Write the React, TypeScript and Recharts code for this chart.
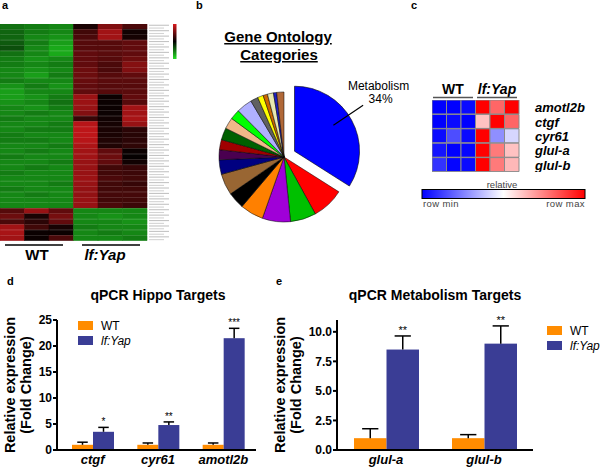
import React from "react";
import { BarChart, Bar, XAxis, YAxis, Cell, PieChart, Pie, Legend } from "recharts";

const FONT = "'Liberation Sans', Arial, Helvetica, sans-serif";
const ORANGE = "#FF8C00";
const NAVY = "#3A3D95";

// ---------- Panel a: microarray heatmap (log ratio, -1 green .. +1 red) ----------
const heatSamplesA = ["WT 1", "WT 2", "WT 3", "lf:Yap 1", "lf:Yap 2", "lf:Yap 3"];
const heatGroupsA = ["WT", "lf:Yap"];
const heatValuesA: number[][] = [
  [-0.5, -0.55, -0.6, 0.12, 0.6, 0.35],
  [-0.45, -0.55, -0.6, 0.3, 0.75, 0.08],
  [-0.45, -0.6, -0.65, 0.35, 0.75, 0.1],
  [-0.4, -0.55, -0.7, 0.4, 0.4, 0.45],
  [-0.35, -0.6, -0.75, 0.4, 0.4, 0.45],
  [-0.5, -0.6, -0.75, 0.45, 0.42, 0.45],
  [-0.55, -0.65, -0.6, 0.45, 0.4, 0.5],
  [-0.55, -0.6, -0.55, 0.45, 0.35, 0.62],
  [-0.6, -0.65, -0.6, 0.5, 0.35, 0.6],
  [-0.6, -0.7, -0.55, 0.5, 0.4, 0.45],
  [-0.55, -0.6, -0.6, 0.48, 0.42, 0.42],
  [-0.65, -0.55, -0.65, 0.45, 0.4, 0.4],
  [-0.7, -0.6, -0.6, 0.45, 0.4, 0.42],
  [-0.7, -0.65, -0.55, 0.72, 0.05, 0.45],
  [-0.65, -0.6, -0.5, 0.72, 0.05, 0.4],
  [-0.6, -0.65, -0.55, 0.7, 0.05, 0.75],
  [-0.6, -0.55, -0.6, 0.6, 0.06, 0.75],
  [-0.55, -0.6, -0.6, 0.25, 0.08, 0.78],
  [-0.6, -0.6, -0.55, 0.85, 0.1, 0.7],
  [-0.6, -0.55, -0.55, 0.88, 0.12, 0.2],
  [-0.55, -0.6, -0.6, 0.88, 0.12, 0.18],
  [-0.55, -0.55, -0.6, 0.85, 0.15, 0.2],
  [-0.6, -0.6, -0.55, 0.8, 0.15, 0.22],
  [-0.6, -0.55, -0.6, 0.75, 0.45, 0.05],
  [-0.55, -0.6, -0.6, 0.75, 0.5, 0.03],
  [-0.6, -0.6, -0.55, 0.7, 0.45, 0.08],
  [-0.6, -0.55, -0.6, 0.7, 0.3, 0.25],
  [-0.55, -0.6, -0.6, 0.7, 0.3, 0.28],
  [-0.6, -0.6, -0.6, 0.72, 0.35, 0.3],
  [-0.6, -0.6, -0.55, 0.7, 0.3, 0.25],
  [-0.55, -0.6, -0.6, 0.68, 0.3, 0.3],
  [-0.6, -0.55, -0.6, 0.68, 0.32, 0.32],
  [-0.6, -0.6, -0.6, 0.7, 0.3, 0.3],
  [-0.6, -0.6, -0.6, 0.7, 0.35, 0.28],
  [0.4, 0.7, 0.45, -0.6, -0.6, -0.6],
  [0.5, 0.12, 0.55, -0.6, -0.65, -0.6],
  [0.35, 0.2, 0.45, -0.6, -0.6, -0.65],
  [0.75, 0.3, 0.1, -0.55, -0.6, -0.6],
  [0.78, 0.05, 0.05, -0.6, -0.55, -0.6],
  [0.75, 0.05, 0.35, -0.6, -0.6, -0.55],
];

// ---------- Panel b: Gene Ontology pie ----------
const goCategories = [
  "Metabolism", "Category 2", "Category 3", "Category 4", "Category 5", "Category 6", "Category 7",
  "Category 8", "Category 9", "Category 10", "Category 11", "Category 12", "Category 13", "Category 14",
  "Category 15", "Category 16", "Category 17", "Category 18", "Category 19", "Category 20",
];
const goPercents = [34, 8, 6.4, 7, 5.8, 4.2, 5.3, 3.6, 2.5, 2.5, 3, 2.8, 2.5, 3.9, 1.9, 1.4, 1.1, 1.5, 0.8, 1.8];
const goColors = [
  "#0000FF", "#FF0000", "#00C000", "#A000D8", "#FF8000", "#000000", "#996633", "#000080", "#4A0050", "#A00000",
  "#006000", "#F0B888", "#00FF00", "#B0B0FF", "#606060", "#FFFF00", "#CC6600", "#E8E8B0", "#2020C0", "#B06838",
];

// ---------- Panel c: qPCR heatmap (row-normalised 0..1) ----------
const qGenesC = ["amotl2b", "ctgf", "cyr61", "glul-a", "glul-b"];
const qSamplesC = ["WT 1", "WT 2", "WT 3", "lf:Yap 1", "lf:Yap 2", "lf:Yap 3"];
const qValuesC: number[][] = [
  [0, 0, 0.02, 1, 0.8, 1],
  [0, 0.02, 0, 0.62, 1, 0.8],
  [0.02, 0.15, 0.02, 1, 0.28, 0.42],
  [0.04, 0, 0.01, 1, 0.76, 0.62],
  [0.1, 0.01, 0.02, 1, 0.76, 0.64],
];

// ---------- Panel d: qPCR Hippo targets ----------
const hippoGenes = ["ctgf", "cyr61", "amotl2b"];
const hippoWT = [1.0, 1.0, 1.0];
const hippoWTErr = [0.5, 0.35, 0.35];
const hippoYap = [3.5, 4.8, 21.5];
const hippoYapErr = [0.85, 0.6, 1.9];
const hippoSig = ["*", "**", "***"];
const hippoTicks = [0, 5, 10, 15, 20, 25];

// ---------- Panel e: qPCR metabolism targets ----------
const metabGenes = ["glul-a", "glul-b"];
const metabWT = [1.0, 1.0];
const metabWTErr = [0.8, 0.3];
const metabYap = [8.5, 9.0];
const metabYapErr = [1.15, 1.5];
const metabSig = ["**", "**"];
const metabTicks = [0, 2.5, 5, 7.5, 10];

const RADIAN = Math.PI / 180;

function greenRed(v: number) {
  const a = Math.min(1, Math.abs(v));
  if (v >= 0) return `rgb(${Math.round(215 * a)},${Math.round(25 * a)},${Math.round(28 * a)})`;
  return `rgb(${Math.round(35 * a)},${Math.round(225 * a)},${Math.round(35 * a)})`;
}
function blueRed(v: number) {
  if (v < 0.5) {
    const c = Math.round(255 * (v / 0.5));
    return `rgb(${c},${c},255)`;
  }
  const c = Math.round(255 * (1 - (v - 0.5) / 0.5));
  return `rgb(255,${c},${c})`;
}

const heatDataA = heatValuesA.map((row, i) => {
  const o: any = { gene: `gene ${i + 1}` };
  row.forEach((_, j) => (o[`s${j}`] = 1));
  return o;
});
const qDataC = qGenesC.map((g, i) => {
  const o: any = { gene: g };
  qValuesC[i].forEach((_, j) => (o[`s${j}`] = 1));
  return o;
});
const hippoData = hippoGenes.map((g, i) => ({
  gene: g, wt: hippoWT[i], wtErr: hippoWTErr[i], yap: hippoYap[i], yapErr: hippoYapErr[i], yapSig: hippoSig[i],
}));
const metabData = metabGenes.map((g, i) => ({
  gene: g, wt: metabWT[i], wtErr: metabWTErr[i], yap: metabYap[i], yapErr: metabYapErr[i], yapSig: metabSig[i],
}));
const goData = goCategories.map((c, i) => ({ name: c, value: goPercents[i] }));

const StubTick = (props: any) => {
  const { x, y } = props;
  return (
    <g>
      <rect x={x - 6} y={y - 2} width={20} height={1.1} fill="#c4c4c4" />
      <rect x={x - 6} y={y + 0.8} width={15} height={1.1} fill="#d4d4d4" />
    </g>
  );
};

const GeneTickC = (props: any) => {
  const { x, y, payload } = props;
  return (
    <text x={x + 8} y={y + 5} fontFamily={FONT} fontSize={13} fontWeight="bold" fontStyle="italic" fill="#000">
      {payload.value}
    </text>
  );
};

const CatTick = (props: any) => {
  const { x, y, payload } = props;
  return (
    <text x={x} y={y + 14} textAnchor="middle" fontFamily={FONT} fontSize={13} fontWeight="bold" fontStyle="italic" fill="#000">
      {payload.value}
    </text>
  );
};

const makeShape = (valKey: string, errKey: string, sigKey: string | null, sigSize: number) => (props: any) => {
  const { x, y, width, height, fill, payload } = props;
  const v = payload[valKey];
  const ppu = v ? height / v : 0;
  const top = y - payload[errKey] * ppu;
  const cx = x + width / 2;
  const cap = width * 0.25;
  return (
    <g>
      <rect x={x} y={y} width={width} height={height} fill={fill} />
      <line x1={cx} y1={y} x2={cx} y2={top} stroke="#000" strokeWidth={1.5} />
      <line x1={cx - cap} y1={top} x2={cx + cap} y2={top} stroke="#000" strokeWidth={1.5} />
      {sigKey ? (
        <text x={cx} y={top - 2} textAnchor="middle" fontFamily={FONT} fontSize={sigSize} fill="#000">
          {payload[sigKey]}
        </text>
      ) : null}
    </g>
  );
};

const LegendBox = (props: any) => {
  const { payload } = props;
  return (
    <div style={{ fontFamily: FONT, fontSize: 12, color: "#000" }}>
      {(payload || []).map((p: any, i: number) => (
        <div key={i} style={{ display: "flex", alignItems: "center", height: 15 }}>
          <span style={{ display: "inline-block", width: 15, height: 9, background: p.color, marginRight: 8 }} />
          <span style={{ fontStyle: String(p.value).includes(":") ? "italic" : "normal" }}>{p.value}</span>
        </div>
      ))}
    </div>
  );
};

const metabMid = 90 - (goPercents[0] / 100) * 360 / 2;
const explode = 12;
const PIE_CX = 79;
const PIE_CY = 132;

const renderMetabLabel = (props: any) => {
  const { cx, cy, midAngle, outerRadius, index, percent } = props;
  if (index !== 0) return null;
  const a = (midAngle + 5) * RADIAN;
  const x1 = cx + outerRadius * 0.72 * Math.cos(a);
  const y1 = cy - outerRadius * 0.72 * Math.sin(a);
  const x2 = cx + outerRadius * 1.27 * Math.cos(a);
  const y2 = cy - outerRadius * 1.27 * Math.sin(a);
  return (
    <g>
      <line x1={x1} y1={y1} x2={x2} y2={y2} stroke="#000" strokeWidth={1.2} />
      <text x={x2 + 15.5} y={y2 - 15} textAnchor="middle" fontFamily={FONT} fontSize={12} fill="#000">
        {goCategories[0]}
      </text>
      <text x={x2 + 17.5} y={y2 - 2} textAnchor="middle" fontFamily={FONT} fontSize={12} fill="#000">
        {Math.round(percent * 100)}%
      </text>
    </g>
  );
};

const axisStyle = { stroke: "#000", strokeWidth: 2 };
const numTick = { fontSize: 12, fontWeight: "bold", fill: "#000", fontFamily: FONT } as any;

export default function App() {
  return (
    <div style={{ position: "absolute", left: 0, top: 0, width: 600, height: 470, background: "#fff", overflow: "hidden", fontFamily: FONT }}>
      {/* Panel a */}
      <div style={{ position: "absolute", left: 0, top: 24 }}>
        <BarChart layout="vertical" width={172} height={217} data={heatDataA} margin={{ top: 0, right: 0, bottom: 0, left: 0 }} barCategoryGap={0}>
          <XAxis type="number" domain={[0, 6]} hide />
          <YAxis yAxisId="l" type="category" dataKey="gene" hide width={0} />
          <YAxis yAxisId="r" orientation="right" type="category" dataKey="gene" width={25} axisLine={false} tickLine={false} interval={0} tick={StubTick} />
          {heatSamplesA.map((name, j) => (
            <Bar key={name} yAxisId="l" dataKey={`s${j}`} name={name} stackId="h" isAnimationActive={false}>
              {heatValuesA.map((row, i) => (
                <Cell key={i} fill={greenRed(row[j])} stroke={greenRed(row[j])} strokeWidth={0.6} />
              ))}
            </Bar>
          ))}
        </BarChart>
      </div>

      {/* Panel b */}
      <div style={{ position: "absolute", left: 200, top: 20 }}>
        <PieChart width={210} height={220}>
          <Pie data={goData} dataKey="value" nameKey="name" cx={PIE_CX} cy={PIE_CY} outerRadius={65} startAngle={90} endAngle={-270} isAnimationActive={false} label={false} labelLine={false}>
            {goData.map((d, i) => (
              <Cell key={i} fill={i === 0 ? "none" : goColors[i]} stroke={i === 0 ? "none" : "#000"} strokeWidth={0.5} />
            ))}
          </Pie>
          <Pie
            data={goData}
            dataKey="value"
            nameKey="name"
            cx={PIE_CX + explode * Math.cos(metabMid * RADIAN)}
            cy={PIE_CY - explode * Math.sin(metabMid * RADIAN)}
            outerRadius={65}
            startAngle={90}
            endAngle={-270}
            isAnimationActive={false}
            label={renderMetabLabel}
            labelLine={false}
          >
            {goData.map((d, i) => (
              <Cell key={i} fill={i === 0 ? goColors[0] : "none"} stroke={i === 0 ? "#000" : "none"} strokeWidth={0.6} />
            ))}
          </Pie>
        </PieChart>
      </div>

      {/* Panel c */}
      <div style={{ position: "absolute", left: 432, top: 100 }}>
        <BarChart layout="vertical" width={168} height={72} data={qDataC} margin={{ top: 0, right: 0, bottom: 0, left: 0 }} barCategoryGap={0}>
          <XAxis type="number" domain={[0, 6]} hide />
          <YAxis type="category" dataKey="gene" orientation="right" width={81} axisLine={false} tickLine={false} interval={0} tick={GeneTickC} />
          {qSamplesC.map((name, j) => (
            <Bar key={name} dataKey={`s${j}`} name={name} stackId="q" isAnimationActive={false}>
              {qValuesC.map((row, i) => (
                <Cell key={i} fill={blueRed(row[j])} stroke="#8a8a8a" strokeWidth={1} />
              ))}
            </Bar>
          ))}
        </BarChart>
      </div>

      {/* Panel d */}
      <div style={{ position: "absolute", left: 0, top: 300 }}>
        <BarChart width={270} height={170} data={hippoData} margin={{ top: 20, right: 14, bottom: 0, left: 0 }} barSize={21} barGap={0}>
          <XAxis dataKey="gene" height={20} padding={{ left: 3, right: 0 }} tickLine={false} tickSize={0} tickMargin={0} axisLine={axisStyle} tick={CatTick} interval={0} />
          <YAxis width={57} domain={[0, 25]} ticks={hippoTicks} tickSize={4} tickMargin={1} axisLine={axisStyle} tickLine={axisStyle} tick={numTick} />
          <Bar dataKey="wt" name="WT" fill={ORANGE} isAnimationActive={false} shape={makeShape("wt", "wtErr", null, 10)} />
          <Bar dataKey="yap" name="lf:Yap" fill={NAVY} isAnimationActive={false} shape={makeShape("yap", "yapErr", "yapSig", 10)} />
          <Legend layout="vertical" align="center" verticalAlign="middle" wrapperStyle={{ left: 78, top: 18, width: 80 }} content={LegendBox} />
        </BarChart>
      </div>

      {/* Panel e */}
      <div style={{ position: "absolute", left: 270, top: 300 }}>
        <BarChart width={330} height={170} data={metabData} margin={{ top: 20, right: 67, bottom: 0, left: 0 }} barSize={32.5} barGap={0}>
          <XAxis dataKey="gene" height={20} tickLine={false} tickSize={0} tickMargin={0} axisLine={axisStyle} tick={CatTick} interval={0} />
          <YAxis width={67} domain={[0, 11]} ticks={metabTicks} tickSize={4} tickMargin={1} axisLine={axisStyle} tickLine={axisStyle} tick={numTick} tickFormatter={(v: number) => v.toFixed(1)} />
          <Bar dataKey="wt" name="WT" fill={ORANGE} isAnimationActive={false} shape={makeShape("wt", "wtErr", null, 11)} />
          <Bar dataKey="yap" name="lf:Yap" fill={NAVY} isAnimationActive={false} shape={makeShape("yap", "yapErr", "yapSig", 11)} />
          <Legend layout="vertical" align="center" verticalAlign="middle" wrapperStyle={{ left: 277, top: 23, width: 60 }} content={LegendBox} />
        </BarChart>
      </div>

      {/* Annotations */}
      <svg width={600} height={470} style={{ position: "absolute", left: 0, top: 0, pointerEvents: "none" }} fontFamily={FONT}>
        <defs>
          <linearGradient id="gradA" x1="0" y1="0" x2="0" y2="1">
            <stop offset="0" stopColor={greenRed(1)} />
            <stop offset="0.5" stopColor="#000" />
            <stop offset="1" stopColor={greenRed(-1)} />
          </linearGradient>
          <linearGradient id="gradC" x1="0" y1="0" x2="1" y2="0">
            <stop offset="0" stopColor={blueRed(0)} />
            <stop offset="0.5" stopColor={blueRed(0.5)} />
            <stop offset="1" stopColor={blueRed(1)} />
          </linearGradient>
        </defs>
        {/* panel letters */}
        <g fontSize={11} fontWeight="bold" fill="#000">
          <text x={2} y={9}>a</text>
          <text x={196} y={9}>b</text>
          <text x={411} y={9}>c</text>
          <text x={7} y={285}>d</text>
          <text x={276} y={285}>e</text>
        </g>

        {/* panel a */}
        <rect x={173} y={24} width={3.5} height={35} fill="url(#gradA)" />
        <line x1={5} y1={245} x2={63} y2={245} stroke="#000" strokeWidth={1.5} />
        <line x1={82} y1={245} x2={140} y2={245} stroke="#000" strokeWidth={1.5} />
        <text x={37} y={260} textAnchor="middle" fontSize={15} fontWeight="bold">{heatGroupsA[0]}</text>
        <text x={105} y={260} textAnchor="middle" fontSize={15} fontWeight="bold" fontStyle="italic">{heatGroupsA[1]}</text>

        {/* panel b title */}
        <text x={278} y={42} textAnchor="middle" fontSize={15} fontWeight="bold" style={{ textDecoration: "underline" }}>Gene Ontology</text>
        <text x={279} y={60} textAnchor="middle" fontSize={15} fontWeight="bold" style={{ textDecoration: "underline" }}>Categories</text>

        {/* panel c headers & scale */}
        <text x={453} y={94} textAnchor="middle" fontSize={14} fontWeight="bold">WT</text>
        <text x={497} y={94} textAnchor="middle" fontSize={14} fontWeight="bold" fontStyle="italic">lf:Yap</text>
        <line x1={433} y1={97.5} x2={473} y2={97.5} stroke="#555" strokeWidth={1.5} />
        <line x1={477} y1={97.5} x2={517} y2={97.5} stroke="#555" strokeWidth={1.5} />
        <text x={502} y={188} textAnchor="middle" fontSize={9.5} fill="#444">relative</text>
        <rect x={422} y={189.5} width={163} height={9} fill="url(#gradC)" stroke="#000" strokeWidth={1} />
        <text x={423} y={207} fontSize={9.5} fill="#444" letterSpacing={0.4}>row min</text>
        <text x={585} y={207} textAnchor="end" fontSize={9.5} fill="#444" letterSpacing={0.4}>row max</text>

        {/* panel d */}
        <text x={158} y={300} textAnchor="middle" fontSize={14} fontWeight="bold">qPCR Hippo Targets</text>
        <text x={15} y={385} transform="rotate(-90 15 385)" textAnchor="middle" fontSize={14.5} fontWeight="bold">Relative expression</text>
        <text x={31} y={385} transform="rotate(-90 31 385)" textAnchor="middle" fontSize={14.5} fontWeight="bold">(Fold Change)</text>

        {/* panel e */}
        <text x={435} y={300} textAnchor="middle" fontSize={14} fontWeight="bold">qPCR Metabolism Targets</text>
        <text x={285} y={385} transform="rotate(-90 285 385)" textAnchor="middle" fontSize={14.5} fontWeight="bold">Relative expression</text>
        <text x={301} y={385} transform="rotate(-90 301 385)" textAnchor="middle" fontSize={14.5} fontWeight="bold">(Fold Change)</text>
      </svg>
    </div>
  );
}
